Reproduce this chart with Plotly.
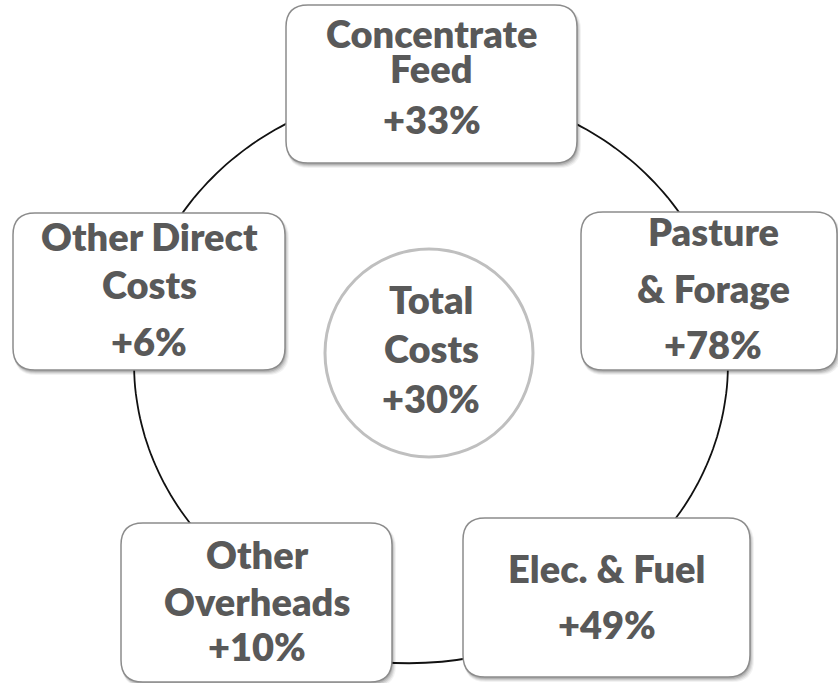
import math
import plotly.graph_objects as go

# ---- data ----
categories = ["Concentrate Feed", "Pasture & Forage", "Elec. & Fuel", "Other Overheads", "Other Direct Costs"]
label_lines = [["Concentrate", "Feed"], ["Pasture", "& Forage"], ["Elec. & Fuel"], ["Other", "Overheads"], ["Other Direct", "Costs"]]
changes = [33, 78, 49, 10, 6]
total_lines = ["Total", "Costs"]
total_change = 30

# ---- layout (pixel geometry of the diagram) ----
W, H = 838, 683
boxes = [  # x0, y0, x1, y1
    (286, 5, 577, 163),
    (581, 212, 837, 370),
    (463, 518, 750, 677),
    (121, 523, 392, 682),
    (13, 213, 285, 370),
]
# baselines of text lines per box (label lines..., value line)
baselines = [
    [47, 82, 133],
    [245, 302, 358],
    [582, 638],
    [568, 615, 660],
    [250, 298, 355],
]
text_cx = [431.5, 713, 606.5, 257, 149]
circle = (429, 353, 104)
total_baselines = [313, 362, 412]

FONT = "Lato, Carlito, Calibri, sans-serif"
FS = 38
TXT = "#595959"

def rrect(x0, y0, x1, y1, r):
    return (f"M {x0+r},{y0} L {x1-r},{y0} Q {x1},{y0} {x1},{y0+r} "
            f"L {x1},{y1-r} Q {x1},{y1} {x1-r},{y1} L {x0+r},{y1} "
            f"Q {x0},{y1} {x0},{y1-r} L {x0},{y0+r} Q {x0},{y0} {x0+r},{y0} Z")

shapes = []
# connector ellipse (side arcs)
cx, cy, a, b = 431, 363, 297, 274
pts = []
n = 200
t0, t1 = math.radians(222), math.radians(-42)
for i in range(n + 1):
    t = t0 + (t1 - t0) * i / n
    pts.append((cx + a * math.cos(t), cy - b * math.sin(t)))
path = "M " + " L ".join(f"{x:.1f},{y:.1f}" for x, y in pts)
shapes.append(dict(type="path", path=path, line=dict(color="#111111", width=1.8), layer="below"))
# bottom connector
shapes.append(dict(type="path", path="M 380,662 Q 427,666 475,657",
                   line=dict(color="#111111", width=1.8), layer="below"))

# boxes with soft shadow
for (x0, y0, x1, y1) in boxes:
    for k, op in [(5, 0.05), (4, 0.07), (3, 0.09), (2, 0.12)]:
        shapes.append(dict(type="path", path=rrect(x0 + 1, y0 + 3, x1 + k - 1, y1 + k, 22),
                           fillcolor=f"rgba(0,0,0,{op})", line=dict(width=0)))
    shapes.append(dict(type="path", path=rrect(x0, y0, x1, y1, 22), fillcolor="white",
                       line=dict(color="#8c8c8c", width=1.5)))

# central circle
ccx, ccy, cr = circle
shapes.append(dict(type="circle", x0=ccx - cr, x1=ccx + cr, y0=ccy - cr, y1=ccy + cr,
                   fillcolor="white", line=dict(color="#bfbfbf", width=3)))

annotations = []
def add_line(x, baseline, text):
    annotations.append(dict(x=x, y=baseline - 0.33 * FS - 1, text=text, showarrow=False,
                            xanchor="center", yanchor="middle",
                            font=dict(family=FONT, size=FS, color=TXT, weight=800)))

for i, lines in enumerate(label_lines):
    texts = lines + [f"+{changes[i]}%"]
    for t, bl in zip(texts, baselines[i]):
        add_line(text_cx[i], bl, t)
for t, bl in zip(total_lines + [f"+{total_change}%"], total_baselines):
    add_line(431, bl, t)

fig = go.Figure()
fig.update_layout(
    width=W, height=H, margin=dict(l=0, r=0, t=0, b=0),
    paper_bgcolor="white", plot_bgcolor="white",
    xaxis=dict(range=[0, W], visible=False, fixedrange=True),
    yaxis=dict(range=[H, 0], visible=False, fixedrange=True),
    shapes=shapes, annotations=annotations, showlegend=False,
)
fig.write_html("out.html", config={"displayModeBar": False},
               post_script="document.body.style.margin='0';document.body.style.overflow='hidden';")
